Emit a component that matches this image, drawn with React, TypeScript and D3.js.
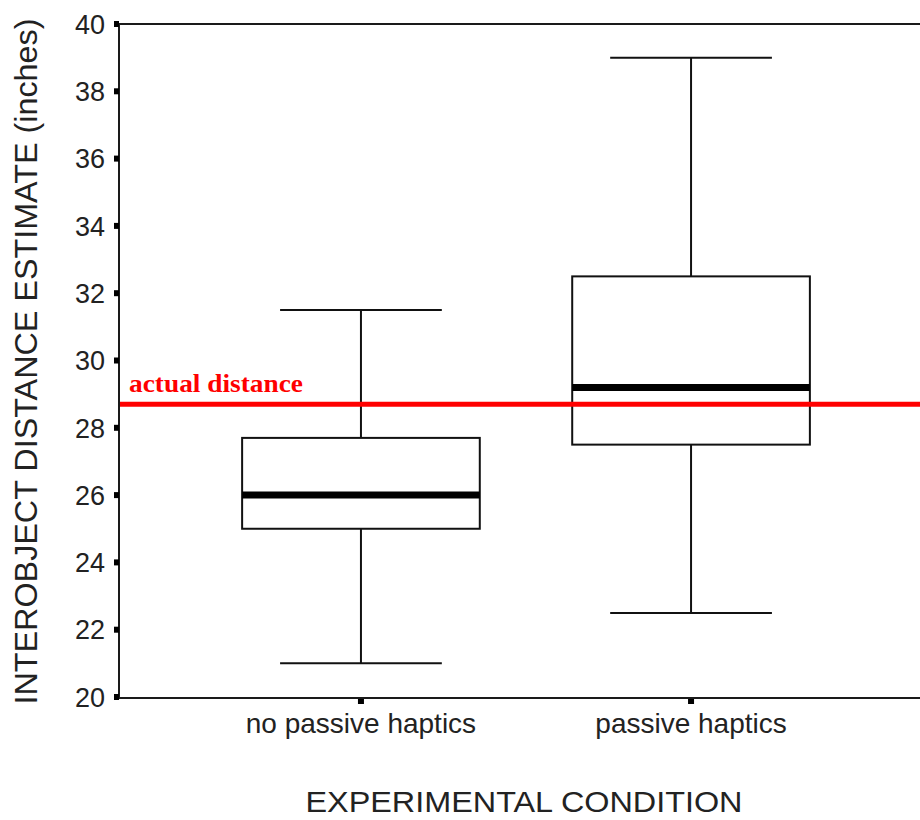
import React from "react";
import * as d3 from "d3";

const categories = ["no passive haptics", "passive haptics"];
const whiskerLow = [21.0, 22.5];
const q1 = [25.0, 27.5];
const medians = [26.0, 29.2];
const q3 = [27.7, 32.5];
const whiskerHigh = [31.5, 39.0];
const yTicks = [20, 22, 24, 26, 28, 30, 32, 34, 36, 38, 40];
const actualDistance = 28.7;
const actualLabel = "actual distance";
const yTitle = "INTEROBJECT DISTANCE ESTIMATE (inches)";
const xTitle = "EXPERIMENTAL CONDITION";

const W = 920;
const H = 820;
const left = 119;
const top = 24;
const bottom = 697;

export default function App() {
  const y = d3.scaleLinear().domain([20, 40]).range([bottom, top]);
  const x = d3.scalePoint<string>().domain(categories).range([left, 933]).padding(0.733);
  const step = x.step();
  const boxW = step * 0.72;
  const capW = step * 0.49;
  const axisColor = "#1a1a1a";
  const sans = "'Liberation Sans', Arial, sans-serif";

  return (
    <svg width={W} height={H} style={{ position: "absolute", left: 0, top: 0, background: "#fff" }}>
      <rect x={0} y={0} width={W} height={H} fill="#fff" />
      {/* frame */}
      <line x1={left} x2={W} y1={y(40)} y2={y(40)} stroke={axisColor} strokeWidth={2} />
      <line x1={left} x2={W} y1={y(20) + 1} y2={y(20) + 1} stroke={axisColor} strokeWidth={2} />
      <line x1={left} x2={left} y1={y(40)} y2={y(20) + 2} stroke={axisColor} strokeWidth={2} />
      {/* y ticks */}
      {yTicks.map((t) => (
        <g key={t}>
          <rect x={left - 5} y={y(t) - 3} width={5} height={6} fill="#000" />
          <text
            x={left - 14}
            y={y(t)}
            dy="0.36em"
            textAnchor="end"
            fontFamily={sans}
            fontSize={27}
            fill="#222"
          >
            {t}
          </text>
        </g>
      ))}
      {/* x ticks */}
      {categories.map((c) => (
        <g key={c}>
          <rect x={(x(c) as number) - 3} y={y(20) + 2} width={6} height={5} fill="#000" />
          <text
            x={x(c) as number}
            y={733}
            textAnchor="middle"
            fontFamily={sans}
            fontSize={28}
            fill="#222"
          >
            {c}
          </text>
        </g>
      ))}
      {/* boxes */}
      {categories.map((c, i) => {
        const cx = x(c) as number;
        return (
          <g key={c}>
            <line x1={cx} x2={cx} y1={y(whiskerHigh[i])} y2={y(q3[i])} stroke="#111" strokeWidth={2} />
            <line x1={cx} x2={cx} y1={y(q1[i])} y2={y(whiskerLow[i])} stroke="#111" strokeWidth={2} />
            <line x1={cx - capW / 2} x2={cx + capW / 2} y1={y(whiskerHigh[i])} y2={y(whiskerHigh[i])} stroke="#111" strokeWidth={2} />
            <line x1={cx - capW / 2} x2={cx + capW / 2} y1={y(whiskerLow[i])} y2={y(whiskerLow[i])} stroke="#111" strokeWidth={2} />
            <rect
              x={cx - boxW / 2}
              y={y(q3[i])}
              width={boxW}
              height={y(q1[i]) - y(q3[i])}
              fill="#fff"
              stroke="#111"
              strokeWidth={2}
            />
            <line x1={cx - boxW / 2} x2={cx + boxW / 2} y1={y(medians[i])} y2={y(medians[i])} stroke="#000" strokeWidth={7} />
          </g>
        );
      })}
      {/* actual distance line */}
      <line x1={left + 1} x2={W} y1={y(actualDistance)} y2={y(actualDistance)} stroke="#ff0000" strokeWidth={5} />
      <text
        x={129}
        y={y(actualDistance) - 12}
        fontFamily="'Liberation Serif', 'Times New Roman', serif"
        fontWeight="bold"
        fontSize={25}
        fill="#ff0000"
        textLength={174}
        lengthAdjust="spacingAndGlyphs"
      >
        {actualLabel}
      </text>
      {/* titles */}
      <text
        transform={`translate(37, ${(top + bottom) / 2 + 1}) rotate(-90)`}
        textAnchor="middle"
        fontFamily={sans}
        fontSize={31}
        fill="#222"
        textLength={686}
        lengthAdjust="spacingAndGlyphs"
      >
        {yTitle}
      </text>
      <text
        x={524}
        y={812}
        textAnchor="middle"
        fontFamily={sans}
        fontSize={30}
        fill="#222"
        textLength={437}
        lengthAdjust="spacingAndGlyphs"
      >
        {xTitle}
      </text>
    </svg>
  );
}
